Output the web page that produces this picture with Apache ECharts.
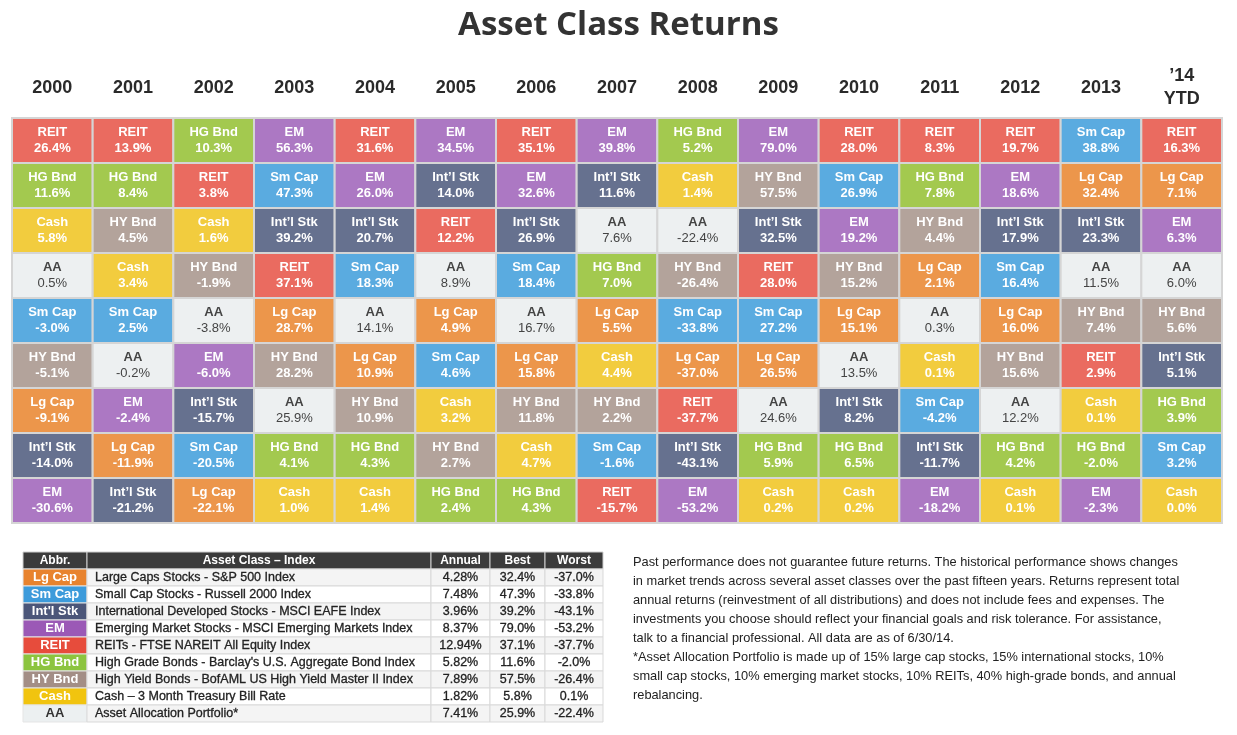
<!DOCTYPE html>
<html><head><meta charset="utf-8">
<script src="https://cdn.jsdelivr.net/npm/echarts@6/dist/echarts.min.js"></script>
<style>html,body{margin:0;padding:0;background:#fff}#c{width:1237px;height:735px}</style>
</head><body><div id="c"></div>
<script>
// ---------- DATA ----------
const years = ['2000','2001','2002','2003','2004','2005','2006','2007','2008','2009','2010','2011','2012','2013',"\u201914\nYTD"];
const ranks = ['1','2','3','4','5','6','7','8','9'];
const cellClasses = [
 ['REIT','HG Bnd','Cash','AA','Sm Cap','HY Bnd','Lg Cap',"Int'l Stk",'EM'],
 ['REIT','HG Bnd','HY Bnd','Cash','Sm Cap','AA','EM','Lg Cap',"Int'l Stk"],
 ['HG Bnd','REIT','Cash','HY Bnd','AA','EM',"Int'l Stk",'Sm Cap','Lg Cap'],
 ['EM','Sm Cap',"Int'l Stk",'REIT','Lg Cap','HY Bnd','AA','HG Bnd','Cash'],
 ['REIT','EM',"Int'l Stk",'Sm Cap','AA','Lg Cap','HY Bnd','HG Bnd','Cash'],
 ['EM',"Int'l Stk",'REIT','AA','Lg Cap','Sm Cap','Cash','HY Bnd','HG Bnd'],
 ['REIT','EM',"Int'l Stk",'Sm Cap','AA','Lg Cap','HY Bnd','Cash','HG Bnd'],
 ['EM',"Int'l Stk",'AA','HG Bnd','Lg Cap','Cash','HY Bnd','Sm Cap','REIT'],
 ['HG Bnd','Cash','AA','HY Bnd','Sm Cap','Lg Cap','REIT',"Int'l Stk",'EM'],
 ['EM','HY Bnd',"Int'l Stk",'REIT','Sm Cap','Lg Cap','AA','HG Bnd','Cash'],
 ['REIT','Sm Cap','EM','HY Bnd','Lg Cap','AA',"Int'l Stk",'HG Bnd','Cash'],
 ['REIT','HG Bnd','HY Bnd','Lg Cap','AA','Cash','Sm Cap',"Int'l Stk",'EM'],
 ['REIT','EM',"Int'l Stk",'Sm Cap','Lg Cap','HY Bnd','AA','HG Bnd','Cash'],
 ['Sm Cap','Lg Cap',"Int'l Stk",'AA','HY Bnd','REIT','Cash','HG Bnd','EM'],
 ['REIT','Lg Cap','EM','AA','HY Bnd',"Int'l Stk",'HG Bnd','Sm Cap','Cash']
];
const cellReturns = [
 [26.4,11.6,5.8,0.5,-3.0,-5.1,-9.1,-14.0,-30.6],
 [13.9,8.4,4.5,3.4,2.5,-0.2,-2.4,-11.9,-21.2],
 [10.3,3.8,1.6,-1.9,-3.8,-6.0,-15.7,-20.5,-22.1],
 [56.3,47.3,39.2,37.1,28.7,28.2,25.9,4.1,1.0],
 [31.6,26.0,20.7,18.3,14.1,10.9,10.9,4.3,1.4],
 [34.5,14.0,12.2,8.9,4.9,4.6,3.2,2.7,2.4],
 [35.1,32.6,26.9,18.4,16.7,15.8,11.8,4.7,4.3],
 [39.8,11.6,7.6,7.0,5.5,4.4,2.2,-1.6,-15.7],
 [5.2,1.4,-22.4,-26.4,-33.8,-37.0,-37.7,-43.1,-53.2],
 [79.0,57.5,32.5,28.0,27.2,26.5,24.6,5.9,0.2],
 [28.0,26.9,19.2,15.2,15.1,13.5,8.2,6.5,0.2],
 [8.3,7.8,4.4,2.1,0.3,0.1,-4.2,-11.7,-18.2],
 [19.7,18.6,17.9,16.4,16.0,15.6,12.2,4.2,0.1],
 [38.8,32.4,23.3,11.5,7.4,2.9,0.1,-2.0,-2.3],
 [16.3,7.1,6.3,6.0,5.6,5.1,3.9,3.2,0.0]
];
const tableHeaders = ['Abbr.','Asset Class \u2013 Index','Annual','Best','Worst'];
const tableAbbr = ['Lg Cap','Sm Cap',"Int'l Stk",'EM','REIT','HG Bnd','HY Bnd','Cash','AA'];
const tableIndex = ['Large Caps Stocks - S&P 500 Index','Small Cap Stocks - Russell 2000 Index','International Developed Stocks - MSCI EAFE Index','Emerging Market Stocks - MSCI Emerging Markets Index','REITs - FTSE NAREIT All Equity Index',"High Grade Bonds - Barclay's U.S. Aggregate Bond Index",'High Yield Bonds - BofAML US High Yield Master II Index','Cash \u2013 3 Month Treasury Bill Rate','Asset Allocation Portfolio*'];
const tableAnnual = [4.28,7.48,3.96,8.37,12.94,5.82,7.89,1.82,7.41];
const tableBest = [32.4,47.3,39.2,79.0,37.1,11.6,57.5,5.8,25.9];
const tableWorst = [-37.0,-33.8,-43.1,-53.2,-37.7,-2.0,-26.4,0.1,-22.4];
const noteText = 'Past performance does not guarantee future returns. The historical performance shows changes\nin market trends across several asset classes over the past fifteen years. Returns represent total\nannual returns (reinvestment of all distributions) and does not include fees and expenses. The\ninvestments you choose should reflect your financial goals and risk tolerance. For assistance,\ntalk to a financial professional. All data are as of 6/30/14.\n*Asset Allocation Portfolio is made up of 15% large cap stocks, 15% international stocks, 10%\nsmall cap stocks, 10% emerging market stocks, 10% REITs, 40% high-grade bonds, and annual\nrebalancing.';

// ---------- STYLE ----------
const gridColors = {'REIT':'#EA6B60','HG Bnd':'#A3C94F','EM':'#AC78C3','Sm Cap':'#5AABE0','Cash':'#F2CC3E','HY Bnd':'#B3A39B','AA':'#EDF0F1','Lg Cap':'#EC964B',"Int'l Stk":'#66718F'};
const tableColors = {'Lg Cap':'#E8832E','Sm Cap':'#3D9BDB',"Int'l Stk":'#4B5679','EM':'#9B59B6','REIT':'#E74C3C','HG Bnd':'#8CC43F','HY Bnd':'#A38E86','Cash':'#F1C40F','AA':'#ECF0F1'};
const tableColEdges = [0, 64, 408, 467, 522, 580];
const FONT = '"Liberation Sans", Arial, Helvetica, sans-serif';
const TFONT = '"Liberation Sans", Arial, sans-serif';

const cellData = [];
cellClasses.forEach((col, i) => col.forEach((c, j) => cellData.push([i, j])));
const tableData = [];
for (let r = 0; r < 10; r++) for (let c = 0; c < 5; c++) tableData.push([c, r]);
const fmtPct = v => v.toFixed(1) + '%';

const chart = echarts.init(document.getElementById('c'), null, {renderer: 'canvas'});
chart.setOption({
  backgroundColor: '#fff',
  animation: false,
  title: {text: 'Asset Class Returns', left: 'center', top: 4,
    textStyle: {fontFamily: '"Open Sans", sans-serif', fontWeight: 'bold', fontSize: 33, color: '#333'}},
  grid: [
    {left: 12, top: 118, width: 1210, height: 405},
    {left: 23, top: 552, width: 580, height: 170}
  ],
  xAxis: [
    {type: 'category', gridIndex: 0, data: years, position: 'top',
      axisLine: {show: false}, axisTick: {show: false},
      axisLabel: {margin: 30, verticalAlign: 'middle', fontFamily: FONT, fontWeight: 'bold', fontSize: 18, color: '#2a2a2a', lineHeight: 23}},
    {type: 'value', gridIndex: 1, min: 0, max: 580, show: false}
  ],
  yAxis: [
    {type: 'category', gridIndex: 0, data: ranks, inverse: true, show: false},
    {type: 'category', gridIndex: 1, data: ['h','1','2','3','4','5','6','7','8','9'], inverse: true, show: false}
  ],
  graphic: [{type: 'text', left: 633, top: 553,
    style: {text: noteText, font: '12.8px ' + FONT, fill: '#222', lineHeight: 19}}],
  series: [
    {type: 'custom', xAxisIndex: 0, yAxisIndex: 0, data: cellData,
      renderItem: (params, api) => {
        const i = api.value(0), j = api.value(1);
        const c = api.coord([i, j]); const s = api.size([1, 1]);
        const cls = cellClasses[i][j]; const v = cellReturns[i][j];
        const aa = cls === 'AA';
        const fg = aa ? '#444' : '#fff';
        const sh = aa ? {} : {shadowColor: 'rgba(0,0,0,0.35)', shadowBlur: 2};
        return {type: 'group', children: [
          {type: 'rect', shape: {x: c[0] - s[0] / 2, y: c[1] - s[1] / 2, width: s[0], height: s[1]},
            style: {fill: gridColors[cls], stroke: '#d5d5d5', lineWidth: 2}},
          {type: 'text', style: Object.assign({x: c[0], y: c[1] - 8, text: cls.replace("'", '\u2019'), fill: fg,
            font: 'bold 13px ' + FONT, align: 'center', verticalAlign: 'middle'}, sh)},
          {type: 'text', style: Object.assign({x: c[0], y: c[1] + 8, text: fmtPct(v), fill: fg,
            font: (aa ? '' : 'bold ') + '13px ' + FONT, align: 'center', verticalAlign: 'middle'}, sh)}
        ]};
      }},
    {type: 'custom', xAxisIndex: 1, yAxisIndex: 1, data: tableData,
      renderItem: (params, api) => {
        const col = api.value(0), row = api.value(1);
        const a = api.coord([tableColEdges[col], row]);
        const b = api.coord([tableColEdges[col + 1], row]);
        const h = api.size([0, 1])[1];
        const x = a[0], y = a[1] - h / 2, w = b[0] - a[0];
        let fill = row % 2 === 1 ? '#f4f4f4' : '#fff', text = '', color = '#222', font = '12.5px ' + TFONT, align = 'center', tx = x + w / 2, stroke = '#d9d9d9';
        if (row === 0) {
          fill = '#3b3b3b'; text = tableHeaders[col]; color = '#fff'; font = 'bold 12px ' + FONT; stroke = '#cfcfcf';
        } else {
          const k = row - 1;
          if (col === 0) { const ab = tableAbbr[k]; fill = tableColors[ab]; text = ab; color = ab === 'AA' ? '#333' : '#fff'; font = 'bold 13px ' + FONT; stroke = '#e5e5e5'; }
          else if (col === 1) { text = tableIndex[k]; align = 'left'; tx = x + 8; }
          else if (col === 2) text = tableAnnual[k].toFixed(2) + '%';
          else if (col === 3) text = fmtPct(tableBest[k]);
          else text = fmtPct(tableWorst[k]);
        }
        return {type: 'group', children: [
          {type: 'rect', shape: {x: x, y: y, width: w, height: h}, style: {fill: fill, stroke: stroke, lineWidth: 1}},
          {type: 'text', style: {x: tx, y: a[1], text: text, fill: color, font: font, align: align, verticalAlign: 'middle',
            stroke: (row > 0 && col > 0) ? '#222' : null, lineWidth: (row > 0 && col > 0) ? 0.3 : 0}}
        ]};
      }}
  ]
});
</script></body></html>
